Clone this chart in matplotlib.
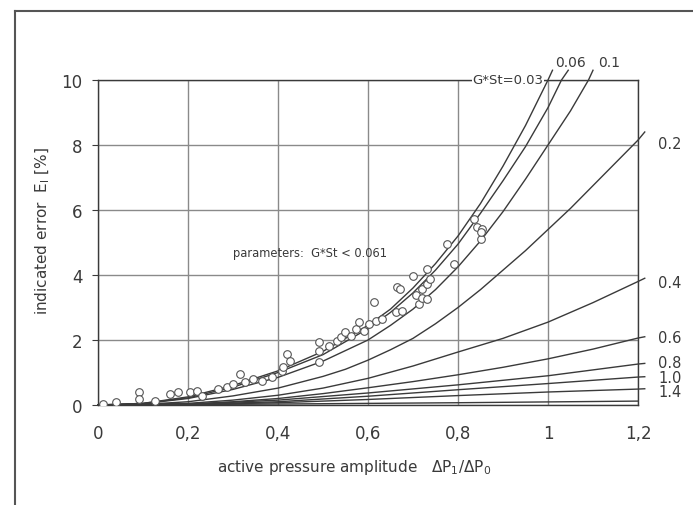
import matplotlib
matplotlib.use('Agg')
import matplotlib.pyplot as plt
from matplotlib.lines import Line2D

plt.rcParams['font.family'] = ['DejaVu Sans']

# measured points (pressure amplitude ratio, indicated error %)
meas_x = [0.011, 0.04, 0.09, 0.09, 0.126, 0.16, 0.177, 0.204, 0.22, 0.23,
          0.266, 0.286, 0.30, 0.315, 0.326, 0.344, 0.364, 0.386, 0.408, 0.42,
          0.41, 0.426, 0.49, 0.49, 0.49, 0.514, 0.53, 0.54, 0.548, 0.563,
          0.574, 0.58, 0.59, 0.603, 0.614, 0.618, 0.632, 0.663, 0.665, 0.676,
          0.67, 0.70, 0.707, 0.714, 0.72, 0.72, 0.73, 0.73, 0.73, 0.737,
          0.776, 0.79, 0.836, 0.843, 0.85, 0.854, 0.85]
meas_y = [0.03, 0.09, 0.40, 0.20, 0.12, 0.34, 0.40, 0.40, 0.43, 0.28,
          0.49, 0.55, 0.65, 0.95, 0.70, 0.80, 0.74, 0.86, 1.05, 1.57,
          1.17, 1.35, 1.94, 1.66, 1.32, 1.82, 1.97, 2.09, 2.25, 2.12,
          2.34, 2.55, 2.28, 2.50, 3.17, 2.58, 2.65, 2.86, 3.63, 2.90,
          3.57, 3.97, 3.40, 3.10, 3.30, 3.57, 4.18, 3.72, 3.26, 3.88,
          4.95, 4.34, 5.72, 5.48, 5.10, 5.42, 5.32]

# calculated curves, labelled by G*St
c003_x = [0, 0.1, 0.2, 0.3, 0.4, 0.5, 0.6, 0.65, 0.7, 0.75, 0.8, 0.85, 0.9, 0.95, 1.0, 1.01]
c003_y = [0, 0.05, 0.25, 0.6, 1.05, 1.65, 2.45, 2.95, 3.6, 4.35, 5.2, 6.2, 7.35, 8.6, 10.0, 10.3]
c006_x = [0, 0.1, 0.2, 0.3, 0.4, 0.5, 0.6, 0.65, 0.7, 0.75, 0.8, 0.85, 0.9, 0.95, 1.0, 1.03, 1.045]
c006_y = [0, 0.05, 0.22, 0.55, 1.0, 1.55, 2.35, 2.85, 3.45, 4.15, 4.95, 5.9, 6.9, 7.95, 9.15, 10.0, 10.3]
c01_x = [0, 0.1, 0.2, 0.3, 0.4, 0.5, 0.6, 0.65, 0.7, 0.75, 0.8, 0.85, 0.9, 0.95, 1.0, 1.05, 1.09, 1.1]
c01_y = [0, 0.04, 0.2, 0.48, 0.85, 1.35, 2.0, 2.45, 2.95, 3.55, 4.25, 5.05, 5.95, 6.95, 8.0, 9.05, 10.0, 10.3]
c02_x = [0, 0.1, 0.2, 0.3, 0.4, 0.5, 0.55, 0.6, 0.65, 0.7, 0.75, 0.8, 0.85, 0.9, 0.95, 1.0, 1.05,
         1.1, 1.15, 1.2, 1.215]
c02_y = [0, 0.02, 0.1, 0.28, 0.52, 0.88, 1.1, 1.38, 1.7, 2.05, 2.5, 3.0, 3.55, 4.15, 4.75, 5.4, 6.05,
         6.75, 7.45, 8.15, 8.4]
c04_x = [0, 0.2, 0.3, 0.4, 0.5, 0.6, 0.7, 0.8, 0.9, 1.0, 1.1, 1.2, 1.215]
c04_y = [0, 0.05, 0.15, 0.3, 0.52, 0.82, 1.2, 1.63, 2.05, 2.55, 3.15, 3.8, 3.9]
c06_x = [0, 0.2, 0.3, 0.4, 0.5, 0.6, 0.7, 0.8, 0.9, 1.0, 1.1, 1.2, 1.215]
c06_y = [0, 0.03, 0.1, 0.2, 0.35, 0.53, 0.72, 0.93, 1.16, 1.42, 1.72, 2.06, 2.1]
c08_x = [0, 0.2, 0.4, 0.6, 0.8, 1.0, 1.2, 1.215]
c08_y = [0, 0.02, 0.15, 0.37, 0.62, 0.9, 1.26, 1.28]
c10_x = [0, 0.2, 0.4, 0.6, 0.8, 1.0, 1.2, 1.215]
c10_y = [0, 0.02, 0.1, 0.27, 0.47, 0.66, 0.86, 0.87]
c14_x = [0, 0.2, 0.4, 0.6, 0.8, 1.0, 1.2, 1.215]
c14_y = [0, 0.01, 0.07, 0.17, 0.29, 0.4, 0.49, 0.5]
c20_x = [0, 0.4, 0.8, 1.2]
c20_y = [0, 0.03, 0.07, 0.12]

curves = [(c003_x, c003_y), (c006_x, c006_y), (c01_x, c01_y), (c02_x, c02_y),
          (c04_x, c04_y), (c06_x, c06_y), (c08_x, c08_y), (c10_x, c10_y),
          (c14_x, c14_y), (c20_x, c20_y)]

right_labels = ['0.2', '0.4', '0.6', '0.8', '1.0', '1.4']
right_label_y = [8.06, 3.78, 2.09, 1.32, 0.86, 0.43]

x_ticks = [0, 0.2, 0.4, 0.6, 0.8, 1.0, 1.2]
x_ticklabels = ['0', '0,2', '0,4', '0,6', '0,8', '1', '1,2']
y_ticks = [0, 2, 4, 6, 8, 10]

ink = '#3a3a3a'
grid_c = '#8a8a8a'

fig = plt.figure(figsize=(6.93, 5.06), dpi=100)
ax = fig.add_axes([98 / 693, 100 / 506, 540 / 693, 325 / 506])
ax.set_xlim(0, 1.2)
ax.set_ylim(0, 10)

ax.set_xticks(x_ticks)
ax.set_xticklabels(x_ticklabels)
ax.set_yticks(y_ticks)
ax.tick_params(axis='x', length=0, pad=14, labelsize=12, colors=ink)
ax.tick_params(axis='y', length=4, width=0.8, pad=7, labelsize=12, colors=ink)
ax.grid(True, color=grid_c, linewidth=1.0)
ax.set_axisbelow(True)
for s in ax.spines.values():
    s.set_color(ink)
    s.set_linewidth(1.0)

for cx, cy in curves:
    ax.plot(cx, cy, color=ink, linewidth=1.0, clip_on=False, zorder=3)

ax.plot(meas_x, meas_y, 'o', markersize=5.5, markerfacecolor='white',
        markeredgecolor='#555555', markeredgewidth=0.8, zorder=4)

for lab, ly in zip(right_labels, right_label_y):
    ax.text(1.245, ly, lab, fontsize=10.5, color=ink, ha='left', va='center')

ax.text(0.99, 10.0, 'G*St=0.03', fontsize=9.5, color=ink, ha='right', va='center',
        bbox=dict(facecolor='white', edgecolor='none', pad=0.5), zorder=5, clip_on=False)
ax.text(1.049, 10.55, '0.06', fontsize=10, color=ink, ha='center', va='center')
ax.text(1.136, 10.55, '0.1', fontsize=10, color=ink, ha='center', va='center')
ax.text(0.30, 4.7, 'parameters:  G*St < 0.061', fontsize=8.3, color=ink, ha='left', va='center')

ax.set_xlabel('active pressure amplitude   $\\Delta$P$_1$/$\\Delta$P$_0$', fontsize=11,
              color=ink)
ax.set_ylabel('indicated error  E$_{\\rm I}$ [%]', fontsize=11, color=ink)
ax.xaxis.set_label_coords(0.474, -0.16)
ax.yaxis.set_label_coords(-0.085, 0.54)

# outer frame of the scanned figure
fig.add_artist(Line2D([15 / 693, 15 / 693], [0, 1 - 12 / 506], transform=fig.transFigure,
                      color='#555555', linewidth=1.5))
fig.add_artist(Line2D([15 / 693, 1], [1 - 12 / 506, 1 - 12 / 506], transform=fig.transFigure,
                      color='#555555', linewidth=1.5))

fig.savefig('out.png', dpi=100)
